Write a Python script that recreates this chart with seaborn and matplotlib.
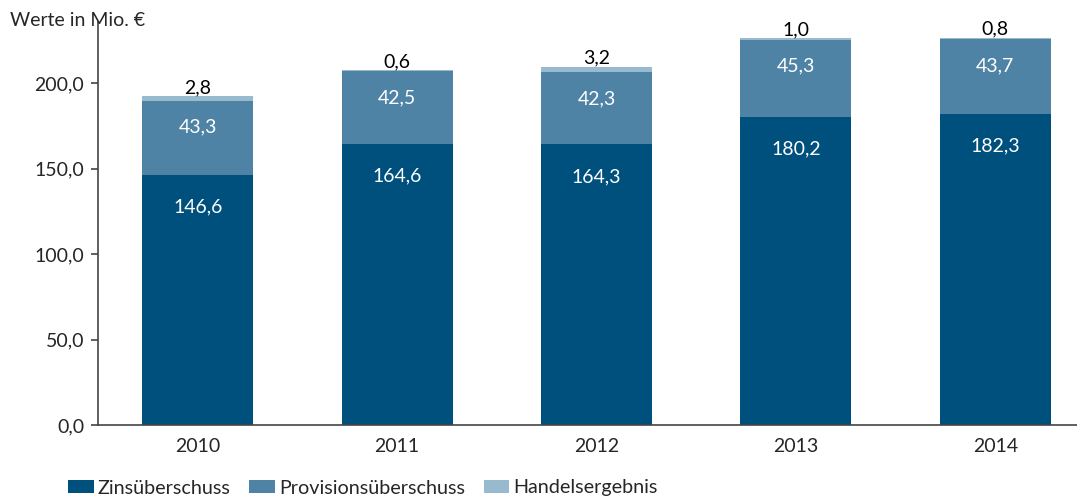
import matplotlib
matplotlib.use("Agg")
import matplotlib.pyplot as plt
from matplotlib.patches import Patch
import seaborn as sns
import pandas as pd
import numpy as np

years = ["2010", "2011", "2012", "2013", "2014"]
zins = [146.6, 164.6, 164.3, 180.2, 182.3]
provision = [43.3, 42.5, 42.3, 45.3, 43.7]
handel = [2.8, 0.6, 3.2, 1.0, 0.8]
series_names = ["Zinsüberschuss", "Provisionsüberschuss", "Handelsergebnis"]
colors = ["#00507D", "#4E83A6", "#98BACF"]
yticks = [0, 50, 100, 150, 200]

sns.set_theme(style="white")
plt.rcParams['font.family'] = ['Lato', 'DejaVu Sans']
FS = 14

fig = plt.figure(figsize=(10.77, 5.01), dpi=100)
ax = fig.add_axes([98/1077, 1-425/501, (1077-98)/1077, (425-22)/501])

def fmt(v):
    return f"{v:.1f}".replace(".", ",")

df = pd.DataFrame({"Jahr": years, "Zins": zins, "Prov": provision, "Handel": handel})
bottom1 = np.array(zins)
bottom2 = bottom1 + np.array(provision)
W = 0.556

sns.barplot(data=df, x="Jahr", y="Zins", color=colors[0], width=W, ax=ax,
            saturation=1, linewidth=0, edgecolor="none")
ax.bar(range(len(years)), df["Prov"], bottom=bottom1, color=colors[1], width=W, linewidth=0)
ax.bar(range(len(years)), df["Handel"], bottom=bottom2, color=colors[2], width=W, linewidth=0)

for i in range(len(years)):
    ax.annotate(fmt(zins[i]), (i, zins[i]), xytext=(0, -23), textcoords="offset points",
                ha="center", va="center", color="white", fontsize=FS)
    ax.annotate(fmt(provision[i]), (i, bottom2[i]), xytext=(0, -19), textcoords="offset points",
                ha="center", va="center", color="white", fontsize=FS)
    ax.annotate(fmt(handel[i]), (i, bottom2[i] + handel[i]), xytext=(0, 0), textcoords="offset points",
                ha="center", va="bottom", color="black", fontsize=FS)

ax.set_xlim(-0.5, 4.41)
ax.set_ylim(0, 236)
ax.set_yticks(yticks)
ax.set_yticklabels([fmt(v) for v in yticks], fontsize=FS)
ax.tick_params(axis="y", length=5, width=1.2, color="#444444", direction="out", pad=5, left=True)
ax.tick_params(axis="x", length=0, labelsize=FS, pad=9)
ax.set_xlabel("")
ax.set_ylabel("")
for s in ["top", "right"]:
    ax.spines[s].set_visible(False)
for s in ["left", "bottom"]:
    ax.spines[s].set_color("#444444")
    ax.spines[s].set_linewidth(1.2)

fig.text(10/1077, 1-20/501, "Werte in Mio. €", fontsize=FS, va="center", ha="left")

handles = [Patch(facecolor=c, edgecolor="none") for c in colors]
fig.legend(handles, series_names, loc="center left", bbox_to_anchor=(68/1077, 1-488/501),
           ncol=3, frameon=False, fontsize=14.2, handlelength=1.3, handleheight=0.65,
           handletextpad=0.2, columnspacing=0.95, borderaxespad=0, borderpad=0)

fig.savefig("out.png", dpi=100)
